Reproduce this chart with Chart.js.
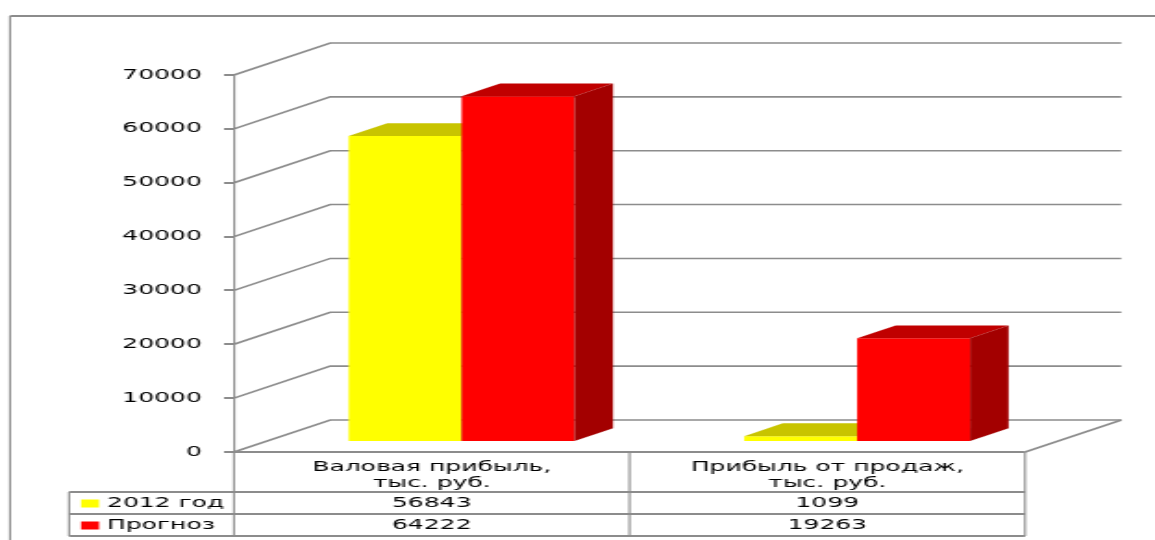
<!DOCTYPE html>
<html>
<head>
<meta charset="utf-8">
<script src="https://cdn.jsdelivr.net/npm/chart.js@4.4.1/dist/chart.umd.min.js"></script>
<style>
  html, body { margin: 0; padding: 0; background: #fff; overflow: hidden; }
  /* the sheet chart is laid out narrow and stretched sideways */
  #wrap { width: 624px; height: 540px; transform: scaleX(1.851); transform-origin: 0 0; }
</style>
</head>
<body>
<div id="wrap"><canvas id="profit-chart"></canvas></div>
<script>
const categories = [['Валовая прибыль,', 'тыс. руб.'], ['Прибыль от продаж,', 'тыс. руб.']];
const seriesNames = ['2012 год', 'Прогноз'];
const values2012 = [56843, 1099];
const valuesForecast = [64222, 19263];
const yMin = 0, yMax = 70000, yStep = 10000;

const frontColors = ['#ffff00', '#ff0000'];
const topColors = ['#c8c400', '#c00000'];
const sideColors = ['#a8a500', '#a30000'];

const FONT = { family: '"DejaVu Sans", Verdana, sans-serif', size: 13.5 };
const GRID = '#8c8c8c';
const DEPTH = { x: 52, y: -32 };   // depth of the box behind the axis
const BAR_SHIFT = 0.31;            // how far back the columns stand
const BAR_DEPTH = 0.4;             // column depth as part of the box

function poly(ctx, pts, fill) {
    ctx.beginPath();
    ctx.moveTo(pts[0][0], pts[0][1]);
    for (let i = 1; i < pts.length; i++) ctx.lineTo(pts[i][0], pts[i][1]);
    ctx.closePath();
    ctx.fillStyle = fill;
    ctx.fill();
}

function line(ctx, x1, y1, x2, y2, w) {
    ctx.beginPath();
    ctx.lineWidth = w;
    ctx.moveTo(x1, y1);
    ctx.lineTo(x2, y2);
    ctx.stroke();
}

// walls, floor, column tops/sides and the data table
const box3d = {
    id: 'box3d',
    beforeDatasetsDraw(chart) {
        const { ctx, chartArea: a, scales: { y } } = chart;
        ctx.save();
        ctx.strokeStyle = GRID;
        y.ticks.forEach(t => {
            const py = y.getPixelForValue(t.value);
            ctx.beginPath();
            ctx.lineWidth = 1.6;
            ctx.moveTo(a.left, py);
            ctx.lineTo(a.left + DEPTH.x, py + DEPTH.y);
            ctx.lineTo(a.right + DEPTH.x, py + DEPTH.y);
            ctx.stroke();
        });
        line(ctx, a.right, a.bottom, a.right + DEPTH.x, a.bottom + DEPTH.y, 1.6);
        ctx.restore();
        // columns are drawn below, series by series, so later ones cover earlier ones
        return false;
    },
    afterDraw(chart) {
        const { ctx, chartArea: a, scales: { x } } = chart;

        // columns: front face from the bar element, then top and side
        ctx.save();
        ctx.translate(DEPTH.x * BAR_SHIFT, DEPTH.y * BAR_SHIFT);
        const dx = DEPTH.x * BAR_DEPTH, dy = DEPTH.y * BAR_DEPTH;
        chart.data.datasets.forEach((ds, i) => {
            chart.getDatasetMeta(i).data.forEach(bar => {
                const { x: bx, y, base, width } = bar.getProps(['x', 'y', 'base', 'width'], true);
                const l = bx - width / 2, r = bx + width / 2;
                bar.draw(ctx);
                poly(ctx, [[l, y], [r, y], [r + dx, y + dy], [l + dx, y + dy]], topColors[i]);
                poly(ctx, [[r, y], [r + dx, y + dy], [r + dx, base + dy], [r, base]], sideColors[i]);
            });
        });
        ctx.restore();

        const headerBottom = a.bottom + 40;
        const rowH = 22;
        const labelLeft = 37.3;
        const mid = (x.getPixelForValue(0) + x.getPixelForValue(1)) / 2;
        const tableBottom = headerBottom + rowH * 2;

        ctx.save();
        ctx.strokeStyle = GRID;
        // horizontal rules
        line(ctx, a.left, a.bottom, a.right, a.bottom, 2);
        line(ctx, labelLeft, headerBottom, a.right, headerBottom, 2);
        line(ctx, labelLeft, headerBottom + rowH, a.right, headerBottom + rowH, 2);
        line(ctx, labelLeft, tableBottom, a.right, tableBottom, 2);
        // vertical rules
        line(ctx, a.left, a.bottom, a.left, tableBottom, 1.1);
        line(ctx, mid, a.bottom, mid, tableBottom, 1.1);
        line(ctx, a.right, a.bottom, a.right, tableBottom, 1.1);
        line(ctx, labelLeft, headerBottom, labelLeft, tableBottom, 1.1);

        // outer frame
        line(ctx, 5.4, 16, 5.4, 540, 1.1);
        line(ctx, 5.4, 16, 624, 16, 2);

        const rows = [values2012, valuesForecast];
        ctx.font = `${FONT.size}px ${FONT.family}`;
        ctx.textBaseline = 'middle';
        rows.forEach((vals, r) => {
            const cy = headerBottom + rowH * r + rowH / 2 + 0.5;
            ctx.fillStyle = frontColors[r];
            ctx.fillRect(43.8, cy - 4, 9.7, 8);
            ctx.fillStyle = '#000';
            ctx.textAlign = 'left';
            ctx.fillText(seriesNames[r], 57.8, cy);
            ctx.textAlign = 'center';
            vals.forEach((v, c) => ctx.fillText(String(v), x.getPixelForValue(c), cy));
        });
        ctx.restore();
    }
};

const ctx = document.getElementById('profit-chart').getContext('2d');
new Chart(ctx, {
    type: 'bar',
    data: {
        labels: categories,
        datasets: [
            { label: seriesNames[0], data: values2012, backgroundColor: frontColors[0], borderWidth: 0 },
            { label: seriesNames[1], data: valuesForecast, backgroundColor: frontColors[1], borderWidth: 0 }
        ]
    },
    options: {
        responsive: true,
        maintainAspectRatio: false,
        animation: false,
        layout: { padding: { top: 75, right: 70.2, bottom: 0, left: 0 } },
        datasets: { bar: { categoryPercentage: 0.571, barPercentage: 1 } },
        scales: {
            x: {
                grid: { display: false, drawTicks: false },
                border: { display: false },
                ticks: { color: '#000', font: FONT, padding: 7, maxRotation: 0, autoSkip: false },
                afterFit: scale => { scale.height = 88; }
            },
            y: {
                min: yMin,
                max: yMax,
                grid: { drawOnChartArea: false, drawTicks: true, tickLength: 5.4, color: GRID, lineWidth: 2 },
                border: { display: true, color: GRID, width: 1.1 },
                ticks: { stepSize: yStep, color: '#000', font: FONT, padding: 12, callback: v => String(v) },
                afterFit: scale => { scale.width = 126.4; }
            }
        },
        plugins: {
            legend: { display: false },
            tooltip: { enabled: false }
        }
    },
    plugins: [box3d]
});
</script>
</body>
</html>
